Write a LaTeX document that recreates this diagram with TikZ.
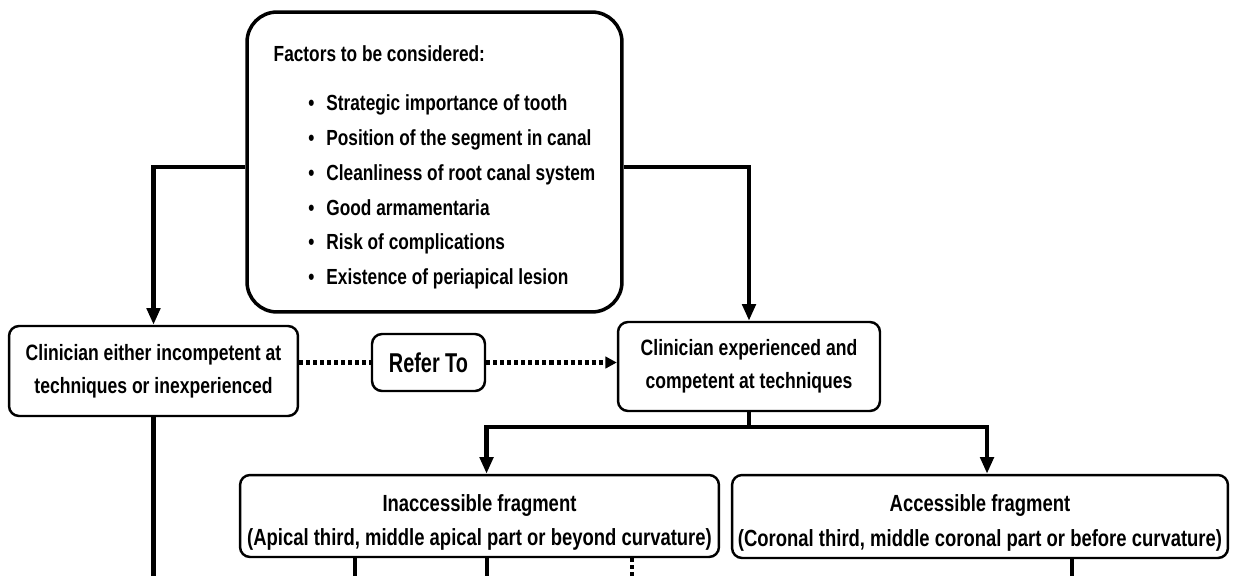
\documentclass[tikz,border=0pt]{standalone}
\usepackage{fontspec}
\setmainfont{Liberation Sans}[FakeStretch=0.79]
\newfontfamily\referfont{Liberation Sans}[FakeStretch=0.73]
\usetikzlibrary{arrows.meta,calc}
\tikzset{
  >=Latex,
  box/.style={
    rectangle, rounded corners=0.2cm, draw=black, line width=1.4pt,
    align=center, inner sep=2pt,
    font=\bfseries\fontsize{12.65}{18.7}\selectfont
  },
  factorbox/.style={
    box, rounded corners=0.6cm, line width=2pt,
    minimum width=7.5cm, minimum height=6cm, align=left,
    font=\bfseries\fontsize{12.45}{19.8}\selectfont
  },
  fragment/.style={
    box, minimum height=1.64cm,
    font=\bfseries\fontsize{13.3}{19.8}\selectfont
  },
  link/.style={line width=2.5pt, draw=black},
  arrow/.style={link, -{Triangle[length=9.5pt,width=7.5pt]}},
  referline/.style={line width=2.3pt, draw=black, dash pattern=on 2.3pt off 1.7pt},
  referarrow/.style={referline, -{Triangle[length=6.5pt,width=6.5pt]}}
}
\newcommand{\factor}[1]{\hspace*{19.8pt}\makebox[10.2pt][l]{\textbullet}#1}

\begin{document}
\begin{tikzpicture}[x=0.02cm,y=-0.02cm]
\useasboundingbox (0,0) rectangle (1241,576);
\node[factorbox] (factors) at (434.5,162) {\rule{0pt}{15pt}Factors to be considered:\\[8.5pt]
  \factor{Strategic importance of tooth}\\
  \factor{Position of the segment in canal}\\
  \factor{Cleanliness of root canal system}\\
  \factor{Good armamentaria}\\
  \factor{Risk of complications}\\
  \factor{Existence of periapical lesion}};
\node[box, minimum width=5.78cm, minimum height=1.8cm] (lowskill) at (153.5,371) {Clinician either incompetent at\\techniques or inexperienced};
\node[box, minimum width=2.26cm, minimum height=1.14cm, font=\referfont\bfseries\fontsize{15.5}{18}\selectfont] (refer) at (428.5,362.5) {Refer To};
\node[box, minimum width=5.24cm, minimum height=1.78cm] (skilled) at (749,366.5) {Clinician experienced and\\competent at techniques};
\node[fragment, minimum width=9.58cm] (hard) at (479.5,516) {\rule{0pt}{17pt}Inaccessible fragment\\(Apical third, middle apical part or beyond curvature)};
\node[fragment, minimum width=9.92cm, minimum height=1.66cm] (easy) at (980,516.5) {\rule{0pt}{17pt}Accessible fragment\\(Coronal third, middle coronal part or before curvature)};
\coordinate (edge) at (0,576);
\coordinate (cutA) at (355,576);
\coordinate (cutB) at (487,576);
\coordinate (cutC) at (632,576);
\coordinate (cutD) at (1072,576);
\draw[arrow] ([yshift=-2.8pt]factors.west) -| (lowskill.north);
\draw[arrow] ([yshift=-2.8pt]factors.east) -| (skilled.north);
\draw[referline] (lowskill.east |- refer.west) -- (refer.west);
\draw[referarrow] (refer.east) -- (refer.east -| skilled.west);
\draw[link] (skilled.south) -- ++(0,15) coordinate (split);
\draw[arrow] (split) -| ([xshift=4pt]hard.north);
\draw[arrow] (split) -| ([xshift=4pt]easy.north);
\draw[link] (lowskill.south) -- (lowskill.south |- edge);
\draw[link] (cutA |- hard.south) -- (cutA);
\draw[link] (cutB |- hard.south) -- (cutB);
\draw[referline] (cutC |- hard.south) -- (cutC);
\draw[link] (cutD |- easy.south) -- (cutD);
\end{tikzpicture}
\end{document}
